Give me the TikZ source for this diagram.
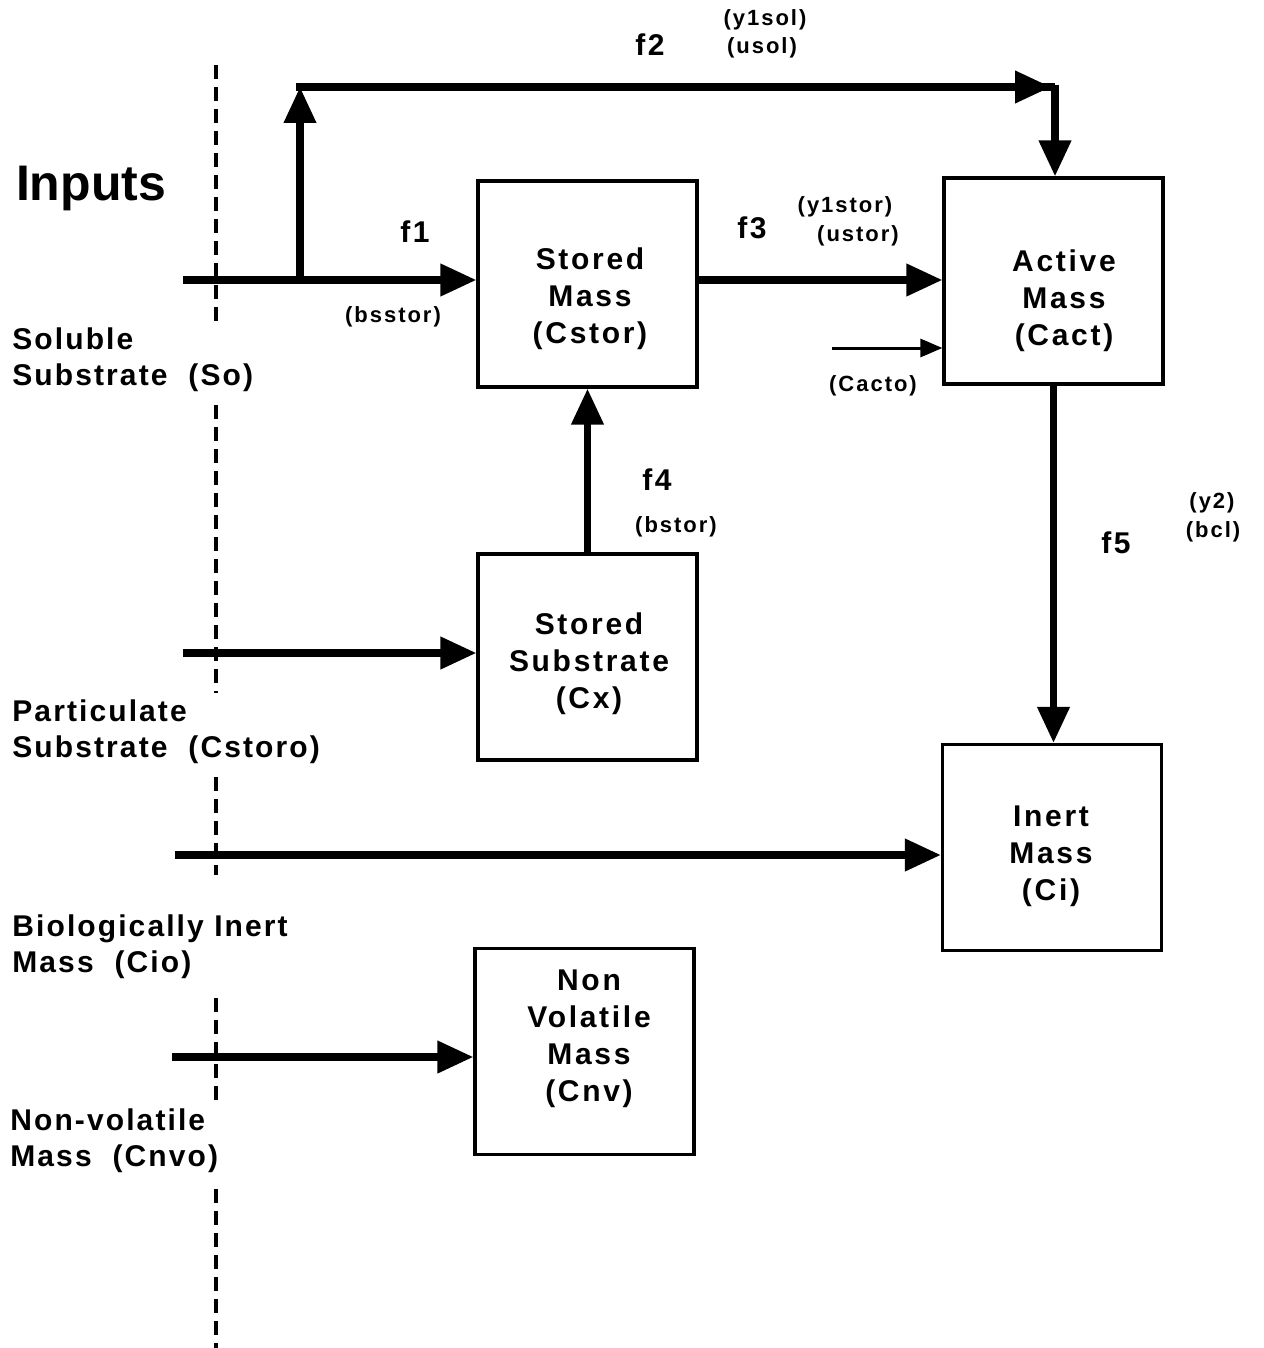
\documentclass[tikz,border=0pt]{standalone}
\usepackage{fontspec}
\setmainfont{Liberation Sans}
\newfontfamily\boxfont[LetterSpace=9]{Liberation Sans}
\newfontfamily\lblfont[LetterSpace=7]{Liberation Sans}
\usetikzlibrary{arrows.meta}
\begin{document}
\begin{tikzpicture}[x=0.5pt,y=-0.5pt,
  massbox/.style={draw, line width=1.6pt, minimum width=109.5pt, minimum height=103pt, inner sep=0pt},
  boxtxt/.style={font=\boxfont\bfseries\fontsize{15}{18.5}\selectfont, align=center, inner sep=0pt},
  sidetxt/.style={font=\lblfont\bfseries\fontsize{15}{18}\selectfont, align=left, anchor=west, inner sep=0pt},
  flowtxt/.style={font=\boxfont\bfseries\fontsize{15}{18}\selectfont, inner sep=0pt},
  smalltxt/.style={font=\boxfont\bfseries\fontsize{11}{14}\selectfont, inner sep=0pt},
  flow/.style={line width=3.6pt, -{Triangle[length=18pt,width=15.5pt]}},
  thinflow/.style={line width=1.5pt, -{Triangle[length=11pt,width=9pt]}},
  plainflow/.style={line width=3.6pt},
  divider/.style={line width=1.8pt, dash pattern=on 7pt off 4pt}]
\useasboundingbox (0,0) rectangle (1263,1348);

% divider
\draw[divider] (216,65) -- (216,325);
\draw[divider] (216,405) -- (216,693);
\draw[divider] (216,777) -- (216,875);
\draw[divider] (216,998) -- (216,1104);
\draw[divider] (216,1189) -- (216,1348);

% boxes
\node[massbox] (sm) at (587.5,284) {};
\node[boxtxt] (smt) at (590,299) {Stored\\Mass\\(Cstor)};
\node[massbox] (am) at (1053.5,281) {};
\node[boxtxt] (amt) at (1064,301) {Active\\Mass\\(Cact)};
\node[massbox] (ss) at (587.5,657) {};
\node[boxtxt] (sst) at (589,664) {Stored\\Substrate\\(Cx)};
\node[massbox] (im) at (1052,847.5) {};
\node[boxtxt] (imt) at (1051,856) {Inert\\Mass\\(Ci)};
\node[massbox] (nv) at (584.5,1051.5) {};
\node[boxtxt] (nvt) at (589,1039) {Non\\Volatile\\Mass\\(Cnv)};

% side labels
\node[font=\bfseries\fontsize{25}{29}\selectfont, inner sep=0pt] (inputs) at (91,188) {Inputs};
\node[sidetxt] (lso) at (12,360) {Soluble\\Substrate~~(So)};
\node[sidetxt] (lcs) at (12,732) {Particulate\\Substrate~~(Cstoro)};
\node[sidetxt] (lci) at (12,947) {Biologically Inert\\Mass~~(Cio)};
\node[sidetxt] (lnv) at (10,1141) {Non-volatile\\Mass~~(Cnvo)};

% connectors
\coordinate (in1) at (183,280);
\coordinate (br) at (300,280);
\coordinate (tl) at (300,87);
\coordinate (tr) at (1055,87);
\draw[flow] (in1) -- (in1 -| sm.west);
\draw[flow] (br) -- (tl);
\draw[plainflow] (tl) -- (tr);
\draw[flow] ([xshift=-2pt]tl) -- ([xshift=-2pt]tr);
\draw[flow] ([yshift=0.9pt]tr) -- (tr |- am.north);
\coordinate (s3) at (697,280);
\draw[flow] (s3 -| sm.east) -- (s3 -| am.west);
\coordinate (ca) at (832,348);
\draw[thinflow] (ca) -- (ca -| am.west);
\draw[flow] (ss.north) -- (sm.south);
\draw[flow] (am.south) -- (am.south |- im.north);
\coordinate (in2) at (183,653);
\draw[flow] (in2) -- (in2 -| ss.west);
\coordinate (in3) at (175,855);
\draw[flow] (in3) -- (in3 -| im.west);
\coordinate (in4) at (172,1057);
\draw[flow] (in4) -- (in4 -| nv.west);

% flow labels
\node[flowtxt] (f2) at (650,45) {f2};
\node[smalltxt] (y1sol) at (765,20) {(y1sol)};
\node[smalltxt] (usol) at (762,48) {(usol)};
\node[flowtxt] (f1) at (415,232) {f1};
\node[smalltxt] (bsstor) at (393,317) {(bsstor)};
\node[flowtxt] (f3) at (752,228) {f3};
\node[smalltxt] (y1stor) at (845,207) {(y1stor)};
\node[smalltxt] (ustor) at (858,236) {(ustor)};
\node[smalltxt] (cacto) at (873,386) {(Cacto)};
\node[flowtxt] (f4) at (657,480) {f4};
\node[smalltxt] (bstor) at (676,527) {(bstor)};
\node[flowtxt] (f5) at (1116,543) {f5};
\node[smalltxt] (y2) at (1212,503) {(y2)};
\node[smalltxt] (bcl) at (1213,532) {(bcl)};
\end{tikzpicture}
\end{document}
